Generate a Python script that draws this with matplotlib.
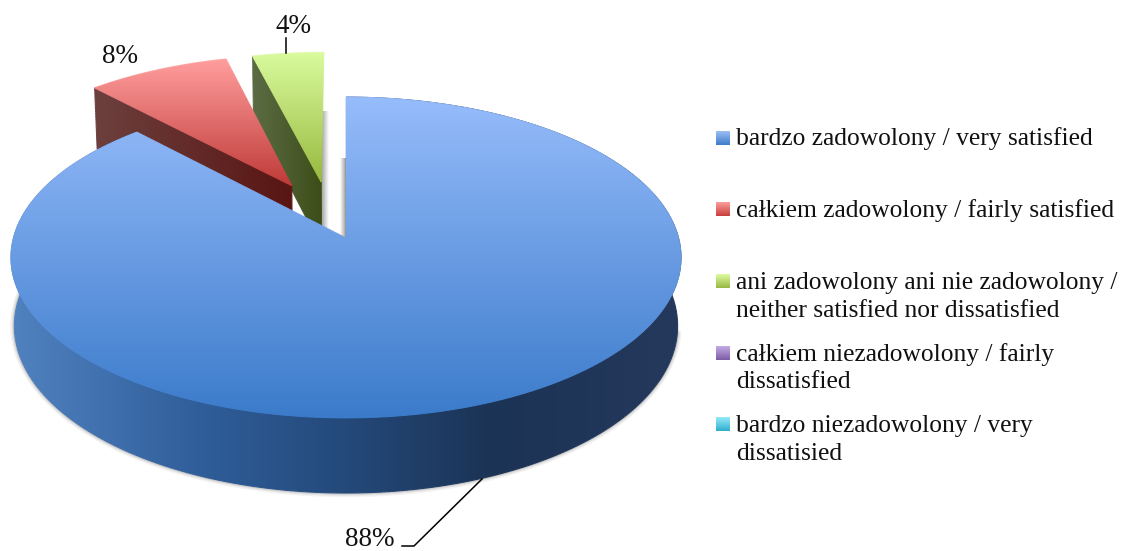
import numpy as np
import matplotlib
matplotlib.use('Agg')
import matplotlib.pyplot as plt
from matplotlib.collections import LineCollection
from matplotlib.colors import LinearSegmentedColormap
from matplotlib.patches import Polygon

# chart data
values = [88, 8, 4, 0, 0]
pct_labels = ['88%', '8%', '4%']
legend_labels = [
    ['bardzo zadowolony / very satisfied'],
    ['całkiem zadowolony / fairly satisfied'],
    ['ani zadowolony ani nie zadowolony /', 'neither satisfied nor dissatisfied'],
    ['całkiem niezadowolony / fairly', 'dissatisfied'],
    ['bardzo niezadowolony / very', 'dissatisied'],
]
swatch_colors = [('#9CBEF5', '#3F7CC8'), ('#FB9D9C', '#C8403E'), ('#DDFB9F', '#98B945'),
                 ('#C3ABE6', '#7D5CA5'), ('#94EAF8', '#2FAFD0')]

# how the disc is projected, in pixels
CX, CY = 346.0, 238.0
A, B = 332.5, 158.0
K = 0.1215
S = 0.99
DEPTH = 67.6
# slices pulled out of the pie, in disc units
explode = [(0.0, 0.0), (-0.17, 0.345), (-0.078, 0.37)]

top_colors = [('#96BCFB', '#3B7BCA'), ('#FF9E9D', '#BF3A38'), ('#DAFB9E', '#97B93F')]
face_colors = [('#2F5C96', '#2F5C96'), ('#6C403E', '#591512'), ('#5B6C45', '#3D4D18')]
wall_cmap = LinearSegmentedColormap.from_list('wall', [
    (0.0, '#5182C0'), (0.28, '#2F5E9A'), (0.5, '#24497A'), (0.72, '#1B3355'), (1.0, '#25395C')])

FONT = 'Liberation Serif'

fig = plt.figure(figsize=(11.37, 5.51), dpi=100)
ax = fig.add_axes([0, 0, 1, 1])
ax.set_xlim(0, 1137)
ax.set_ylim(551, 0)
ax.axis('off')


def project(x, y, low=False):
    w = 1 + K * y
    if low:
        return CX + A * S * x / w, CY + (-B * S * y + DEPTH) / w
    return CX + A * x / w, CY - B * y / w


def fill_gradient(pts, cmap, vertical, z):
    pts = np.array(pts)
    x0, x1 = pts[:, 0].min(), pts[:, 0].max()
    y0, y1 = pts[:, 1].min(), pts[:, 1].max()
    grad = np.linspace(0, 1, 256)
    grad = grad.reshape(-1, 1) if vertical else grad.reshape(1, -1)
    patch = Polygon(pts, closed=True, fill=False, edgecolor='none', zorder=z)
    ax.add_patch(patch)
    im = ax.imshow(grad, cmap=cmap, vmin=0, vmax=1, extent=[x0, x1, y1, y0],
                   aspect='auto', zorder=z, interpolation='bilinear')
    im.set_clip_path(patch)
    # clip paths come out jagged, so go over the outline with a thin line
    # long edges are cut up so the line follows the gradient
    closed = np.vstack([pts, pts[:1]])
    fine = []
    for a, b in zip(closed[:-1], closed[1:]):
        n = max(int(np.hypot(*(b - a)) / 3), 1)
        fine.append(a + (b - a) * np.linspace(0, 1, n, endpoint=False)[:, None])
    fine = np.vstack(fine + [closed[-1:]])
    segs = np.stack([fine[:-1], fine[1:]], axis=1)
    if vertical:
        pos = (segs[:, :, 1].mean(axis=1) - y0) / max(y1 - y0, 1)
    else:
        pos = (segs[:, :, 0].mean(axis=1) - x0) / max(x1 - x0, 1)
    ax.add_collection(LineCollection(segs, colors=cmap(pos), linewidths=0.8, zorder=z))


def two_tone(c):
    return LinearSegmentedColormap.from_list('g', list(c))


def soft_shadow(x0, x1, y0, y1, dark_right, z):
    rgba = np.zeros((1, 32, 4))
    rgba[..., :3] = 0.35
    rgba[0, :, 3] = np.linspace(0, 0.6, 32) if dark_right else np.linspace(0.6, 0, 32)
    ax.imshow(rgba, extent=[x0, x1, y1, y0], aspect='auto', zorder=z, interpolation='bilinear')


# angles of the slices, clockwise from the top
fracs = np.array(values[:3]) / sum(values)
ends = np.cumsum(fracs) * 2 * np.pi
starts = ends - fracs * 2 * np.pi

# later slices sit behind, so they are drawn first
for i in [2, 1, 0]:
    z = 10 + (2 - i) * 5
    dx, dy = explode[i]
    t = np.linspace(starts[i], ends[i], 240)
    rx = np.sin(t) + dx
    ry = np.cos(t) + dy

    up = np.column_stack(project(rx, ry))
    low = np.column_stack(project(rx, ry, low=True))
    apex = np.array(project(dx, dy))
    apex_low = np.array(project(dx, dy, low=True))

    # shadows of the cut edges
    if i == 2:
        soft_shadow(apex[0], up[-1, 0] + 5, low[-1, 1], apex_low[1], False, z - 1)
    if i == 0:
        soft_shadow(apex[0] - 6, apex[0], low[0, 1], apex[1], True, z - 1)
        front = (t > np.pi * 0.55) & (t < np.pi * 1.62)
        for lw, alpha in [(6, 0.07), (4, 0.1), (2.2, 0.18)]:
            ax.plot(low[front, 0], low[front, 1], color='#555555', lw=lw, alpha=alpha,
                    zorder=z - 1, solid_capstyle='round')
        # only the big slice shows its outer wall
        fill_gradient(np.vstack([up, low[::-1]]), wall_cmap, False, z)

    # cut face, top
    face = np.array([up[0], apex, apex_low, low[0]])
    fill_gradient(face, two_tone(face_colors[i]), False, z + 1)
    top = np.vstack([apex, up])
    fill_gradient(top, two_tone(top_colors[i]), True, z + 2)

# percentage labels and leaders
ax.text(345, 546, pct_labels[0], fontsize=19.5, family=FONT, color='#111111', zorder=40)
ax.text(102, 63, pct_labels[1], fontsize=19.5, family=FONT, color='#111111', zorder=40)
ax.text(275, 33, pct_labels[2], fontsize=19.5, family=FONT, color='#111111', zorder=40)
ax.plot([402, 414, 482], [546, 546, 479], color='black', lw=1.1, zorder=40)
ax.plot([286, 286], [38, 53], color='black', lw=1.1, zorder=40)

# legend
swatch_y = [131, 202, 274, 346, 417]
text_y = [[145], [217], [289, 317], [361, 388], [432, 460]]
for i, lines in enumerate(legend_labels):
    grad = np.linspace(0, 1, 32).reshape(-1, 1)
    ax.imshow(grad, cmap=two_tone(swatch_colors[i]), extent=[716, 730, swatch_y[i] + 14, swatch_y[i]],
              aspect='auto', zorder=30)
    for line, y in zip(lines, text_y[i]):
        ax.text(736, y, line, fontsize=18.4, family=FONT, color='#111111', zorder=40)

ax.set_xlim(0, 1137)
ax.set_ylim(551, 0)
fig.savefig('out.png', dpi=100, facecolor='white')
